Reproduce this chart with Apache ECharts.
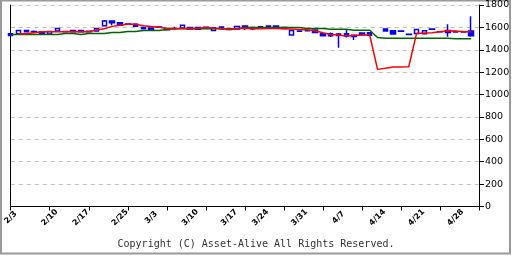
<!DOCTYPE html>
<html>
<head>
<meta charset="utf-8">
<script src="https://cdn.jsdelivr.net/npm/echarts@6/dist/echarts.min.js"></script>
<style>
  html, body { margin: 0; padding: 0; background: #fff; }
  #main { width: 512px; height: 256px; }
</style>
</head>
<body>
<div id="main"></div>
<script>
// trading days (last slot is empty space at the right edge)
var dates = [
  '2/3','2/4','2/5','2/6','2/7',
  '2/10','2/12','2/13','2/14',
  '2/17','2/18','2/19','2/20','2/21',
  '2/25','2/26','2/27','2/28',
  '3/3','3/4','3/5','3/6','3/7',
  '3/10','3/11','3/12','3/13','3/14',
  '3/17','3/18','3/19','3/21',
  '3/24','3/25','3/26','3/27','3/28',
  '3/31','4/1','4/2','4/3','4/4',
  '4/7','4/8','4/9','4/10','4/11',
  '4/14','4/15','4/16','4/17','4/18',
  '4/21','4/22','4/23','4/24','4/25',
  '4/28','4/30','5/1','5/2'
];
var tickLabels = ['2/3','2/10','2/17','2/25','3/3','3/10','3/17','3/24','3/31','4/7','4/14','4/21','4/28'];

// [open, close, low, high]
var candles = [
  [1543,1528,1525,1546], [1543,1573,1540,1575], [1573,1562,1560,1575], [1563,1560,1552,1572],
  [1558,1542,1540,1560], [1540,1564,1538,1566], [1567,1591,1565,1593], [1563,1561,1558,1566],
  [1572,1562,1560,1574], [1572,1560,1558,1574], [1565,1562,1558,1568], [1567,1591,1565,1593],
  [1614,1656,1612,1665], [1656,1641,1620,1658], [1641,1620,1615,1648], [1630,1628,1625,1633],
  [1629,1611,1605,1632], [1600,1587,1585,1602], [1594,1579,1577,1596], [1603,1601,1598,1605],
  [1591,1579,1577,1593], [1590,1589,1580,1605], [1594,1618,1592,1620], [1600,1585,1583,1602],
  [1600,1584,1582,1602], [1601,1599,1597,1603], [1573,1597,1571,1599], [1603,1588,1586,1605],
  [1583,1581,1579,1585], [1585,1609,1583,1611], [1612,1598,1576,1614], [1600,1587,1576,1602],
  [1606,1594,1592,1608], [1612,1600,1598,1614], [1612,1598,1596,1614], [1598,1590,1588,1600],
  [1531,1573,1529,1575], [1568,1566,1564,1570], [1571,1569,1567,1573], [1576,1555,1553,1578],
  [1543,1525,1523,1545], [1543,1525,1515,1555], [1540,1528,1418,1550], [1543,1522,1510,1585],
  [1530,1518,1487,1532], [1550,1535,1533,1552], [1553,1530,1528,1555], '-',
  [1585,1567,1565,1587], [1570,1540,1538,1573], [1568,1566,1564,1570], [1538,1536,1534,1540],
  [1546,1582,1544,1584], [1543,1570,1541,1572], [1586,1584,1582,1588], [1562,1560,1558,1564],
  [1573,1555,1516,1627], [1561,1559,1557,1563], [1561,1559,1557,1563], [1567,1525,1516,1700]
];

// short moving average (red)
var ma5 = [
  '-', 1543, 1543, 1552, 1561, 1562, 1562, 1562, 1563, 1562,
  1562, 1576, 1588, 1609, 1620, 1629, 1629, 1614, 1609, 1602,
  1591, 1590, 1590, 1592, 1591, 1600, 1594, 1590, 1582, 1591,
  1592, 1588, 1588, 1590, 1590, 1588, 1585, 1582, 1579, 1570,
  1552, 1537, 1531, 1522, 1528, 1531, 1531, 1225, 1235, 1246,
  1246, 1248, 1546, 1549, 1552, 1561, 1570, 1567, 1561, 1561
];

// long moving average (green)
var ma25 = [
  1537, 1537, 1537, 1537, 1537, 1537, 1537, 1546, 1546, 1537,
  1546, 1546, 1546, 1555, 1555, 1564, 1564, 1573, 1573, 1573,
  1582, 1588, 1588, 1588, 1588, 1588, 1588, 1588, 1588, 1588,
  1598, 1598, 1598, 1598, 1598, 1598, 1598, 1598, 1591, 1591,
  1591, 1584, 1584, 1584, 1575, 1575, 1575, 1510, 1504, 1504,
  1504, 1504, 1504, 1504, 1504, 1504, 1504, 1498, 1498, 1498
];

var chart = echarts.init(document.getElementById('main'));
var option = {
  animation: false,
  backgroundColor: '#fff',
  grid: { left: 10.7, right: 33, top: 5, bottom: 49.5, outerBoundsMode: 'none' },
  xAxis: {
    type: 'category',
    data: dates,
    boundaryGap: false,
    axisLine: { lineStyle: { color: '#000', width: 1 } },
    axisTick: { interval: 4, length: 4, lineStyle: { color: '#000' } },
    axisLabel: {
      interval: function (idx, val) { return tickLabels.indexOf(val) >= 0; },
      rotate: 45,
      align: 'center',
      verticalAlign: 'middle',
      margin: 11,
      fontSize: 8,
      fontWeight: 'bold',
      fontFamily: 'DejaVu Sans',
      color: '#000'
    },
    splitLine: { show: false }
  },
  yAxis: [
    {
      type: 'value',
      position: 'right',
      min: 0,
      max: 1800,
      interval: 200,
      axisLine: { show: true, lineStyle: { color: '#000' } },
      axisTick: { show: true, length: 5, lineStyle: { color: '#000' } },
      axisLabel: {
        fontSize: 9.5, fontFamily: 'DejaVu Sans', color: '#000', margin: 6,
        formatter: function (v) { return String(v); }
      },
      splitLine: { show: true, lineStyle: { color: '#c0c0c0', type: [4, 4] } }
    },
    {
      type: 'value',
      position: 'left',
      min: 0,
      max: 1800,
      interval: 200,
      axisLine: { show: true, lineStyle: { color: '#000' } },
      axisTick: { show: false },
      axisLabel: { show: false },
      splitLine: { show: false }
    }
  ],
  series: [
    {
      type: 'candlestick',
      data: candles,
      barWidth: 5,
      itemStyle: {
        color: '#fff',
        borderColor: '#0000ff',
        color0: '#0000ff',
        borderColor0: '#0000ff',
        borderWidth: 1.5
      }
    },
    {
      type: 'line',
      data: ma25,
      symbol: 'none',
      lineStyle: { color: '#006400', width: 1.5 }
    },
    {
      type: 'line',
      data: ma5,
      symbol: 'none',
      lineStyle: { color: '#ff0000', width: 1.5 }
    }
  ],
  graphic: [
    {
      type: 'rect',
      shape: { x: 1, y: 0.5, width: 509, height: 253 },
      style: { fill: 'none', stroke: '#999', lineWidth: 2 },
      silent: true
    },
    {
      type: 'text',
      left: 'center',
      top: 239,
      style: {
        text: 'Copyright (C) Asset-Alive All Rights Reserved.',
        font: '10px "DejaVu Sans Mono"',
        fill: '#333'
      }
    }
  ]
};
chart.setOption(option);
</script>
</body>
</html>
